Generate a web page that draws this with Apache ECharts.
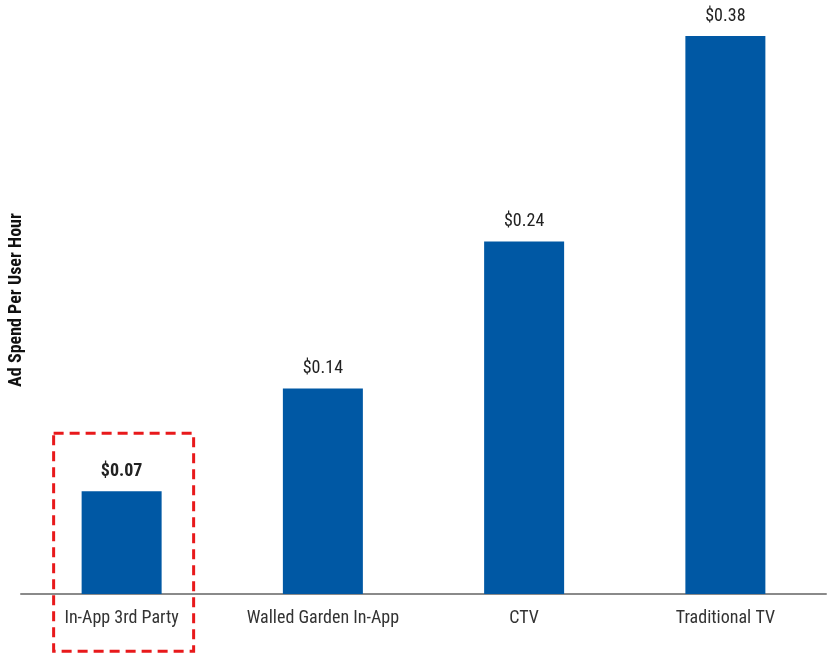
<!DOCTYPE html>
<html>
<head>
<meta charset="utf-8">
<script src="https://cdn.jsdelivr.net/npm/echarts@6/dist/echarts.min.js"></script>
<style>
  html, body { margin: 0; padding: 0; background: #fff; }
  #chart { width: 830px; height: 654px; }
</style>
</head>
<body>
<div id="chart"></div>
<script>
// Ad spend per user hour by channel
const categories = ['In-App 3rd Party', 'Walled Garden In-App', 'CTV', 'Traditional TV'];
const spendValues = [0.07, 0.14, 0.24, 0.38];
const highlightIndex = 0;

const chart = echarts.init(document.getElementById('chart'));
const FONT = '"Roboto Condensed", "Liberation Sans Narrow", Roboto, sans-serif';

chart.setOption({
  animation: false,
  grid: { left: 21, right: 4, top: 36, bottom: 60 },
  xAxis: {
    type: 'category',
    data: categories,
    axisLine: { lineStyle: { color: '#8a8a8a', width: 2 } },
    axisTick: { show: false },
    axisLabel: { color: '#333', fontSize: 18, fontFamily: FONT, margin: 15 }
  },
  yAxis: {
    type: 'value',
    min: 0,
    max: 0.38,
    show: false
  },
  series: [{
    type: 'bar',
    barWidth: 80,
    data: spendValues.map((v, i) => ({
      value: v,
      label: { fontWeight: i === highlightIndex ? 'bold' : 'normal' }
    })),
    itemStyle: { color: '#0058a4' },
    label: {
      show: true,
      position: 'top',
      distance: 11,
      color: '#222',
      fontSize: 18,
      fontFamily: FONT,
      formatter: p => '$' + p.value.toFixed(2)
    }
  }]
});

// Rotated axis title and dashed highlight box around the first category
const cx = chart.convertToPixel({ xAxisIndex: 0 }, categories[highlightIndex]);
const topY = chart.convertToPixel({ yAxisIndex: 0 }, spendValues[highlightIndex]);
chart.setOption({
  graphic: [
    {
      type: 'text',
      rotation: Math.PI / 2,
      x: 16, y: 300,
      style: {
        text: 'Ad Spend Per User Hour',
        fill: '#111',
        font: 'bold 18px ' + FONT,
        textAlign: 'center',
        textVerticalAlign: 'middle'
      }
    },
    {
      type: 'rect',
      shape: { x: cx - 68, y: topY - 58, width: 140, height: 218 },
      style: { fill: 'none', stroke: '#e8191b', lineWidth: 3, lineDash: [10, 6] }
    }
  ]
});
</script>
</body>
</html>
